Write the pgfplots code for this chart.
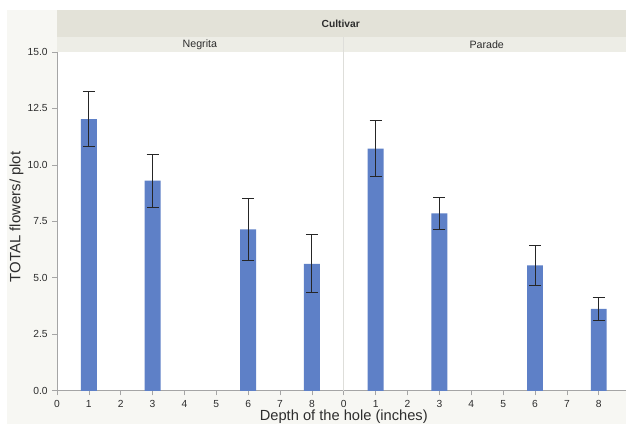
\documentclass[border=0pt]{standalone}
\usepackage{fontspec}
\setmainfont{Liberation Sans}
\usepackage{pgfplots}
\usepackage{pgfplotstable}
\pgfplotsset{compat=1.18}

\definecolor{barblue}{RGB}{94,128,199}
\definecolor{panelbg}{RGB}{247,247,243}
\definecolor{headbg}{RGB}{227,226,216}
\definecolor{subbg}{RGB}{237,237,230}
\definecolor{axgray}{RGB}{165,165,165}
\definecolor{divgray}{RGB}{222,222,218}
\definecolor{txt}{RGB}{45,45,45}

% depth of the hole (inches), mean total flowers per plot, error
\pgfplotstableread{
depth flowers err
1 12.03 1.23
3 9.30 1.17
6 7.15 1.37
8 5.62 1.28
}\negrita
\pgfplotstableread{
depth flowers err
1 10.72 1.24
3 7.85 0.72
6 5.55 0.88
8 3.62 0.51
}\parade

\pgfplotsset{
  panel/.style={
    scale only axis,
    height=254.25pt,
    ymin=0, ymax=15, xmin=0,
    axis background/.style={fill=white},
    axis x line=bottom, axis y line=left,
    axis line style={-, draw=axgray, line width=0.6pt},
    ytick={0,2.5,...,15},
    xtick={0,...,8},
    tick align=outside,
    major tick length=3.5pt,
    tick style={axgray, line width=0.5pt},
    ticklabel style={font=\fontsize{7.7}{9}\selectfont, text=txt},
    /pgf/number format/assume math mode=true,
    yticklabel style={/pgf/number format/.cd, fixed, fixed zerofill, precision=1},
    clip=false,
  },
  bars/.style={
    ybar, bar width=0.5, fill=barblue, draw=none,
    error bars/.cd, y dir=both, y explicit,
    error bar style={draw=black!85, line width=0.7pt},
    error mark options={rotate=90, draw=black!85, mark size=4.5pt, line width=0.7pt},
  },
}

\begin{document}
\begin{tikzpicture}
\begin{scope}[x=0.75pt, y=0.75pt]
\useasboundingbox (0,0) rectangle (626,424);
\fill[panelbg] (7,0) rectangle (626,414);
\fill[headbg] (57,387) rectangle (626,414);
\fill[subbg] (57,372) rectangle (626,387);
\end{scope}

\begin{axis}[panel, at={(42.75pt,24.75pt)}, anchor=origin, width=215.25pt, xmax=9]
  \addplot[bars] table[x=depth, y=flowers, y error=err] {\negrita};
\end{axis}

\begin{axis}[panel, at={(258pt,24.75pt)}, anchor=origin, width=211.5pt, xmax=8.843,
  yticklabels={}, ytick style={draw=none},
  y axis line style={draw=divgray}]
  \addplot[bars] table[x=depth, y=flowers, y error=err] {\parade};
\end{axis}

\begin{scope}[x=0.75pt, y=0.75pt]
\draw[divgray, line width=0.6pt] (344,33) -- (344,387);
\node[font=\bfseries\fontsize{7.7}{9}\selectfont, text=txt] at (341,400.5) {Cultivar};
\node[font=\fontsize{8}{9.6}\selectfont, text=txt] at (200,379.5) {Negrita};
\node[font=\fontsize{8}{9.6}\selectfont, text=txt] at (487,379.5) {Parade};
\node[font=\fontsize{11.2}{13}\selectfont, text=txt, rotate=90] at (16.5,207) {TOTAL flowers/ plot};
\node[font=\fontsize{11}{13}\selectfont, text=txt, anchor=base] at (344,3) {Depth of the hole (inches)};
\end{scope}
\end{tikzpicture}
\end{document}
